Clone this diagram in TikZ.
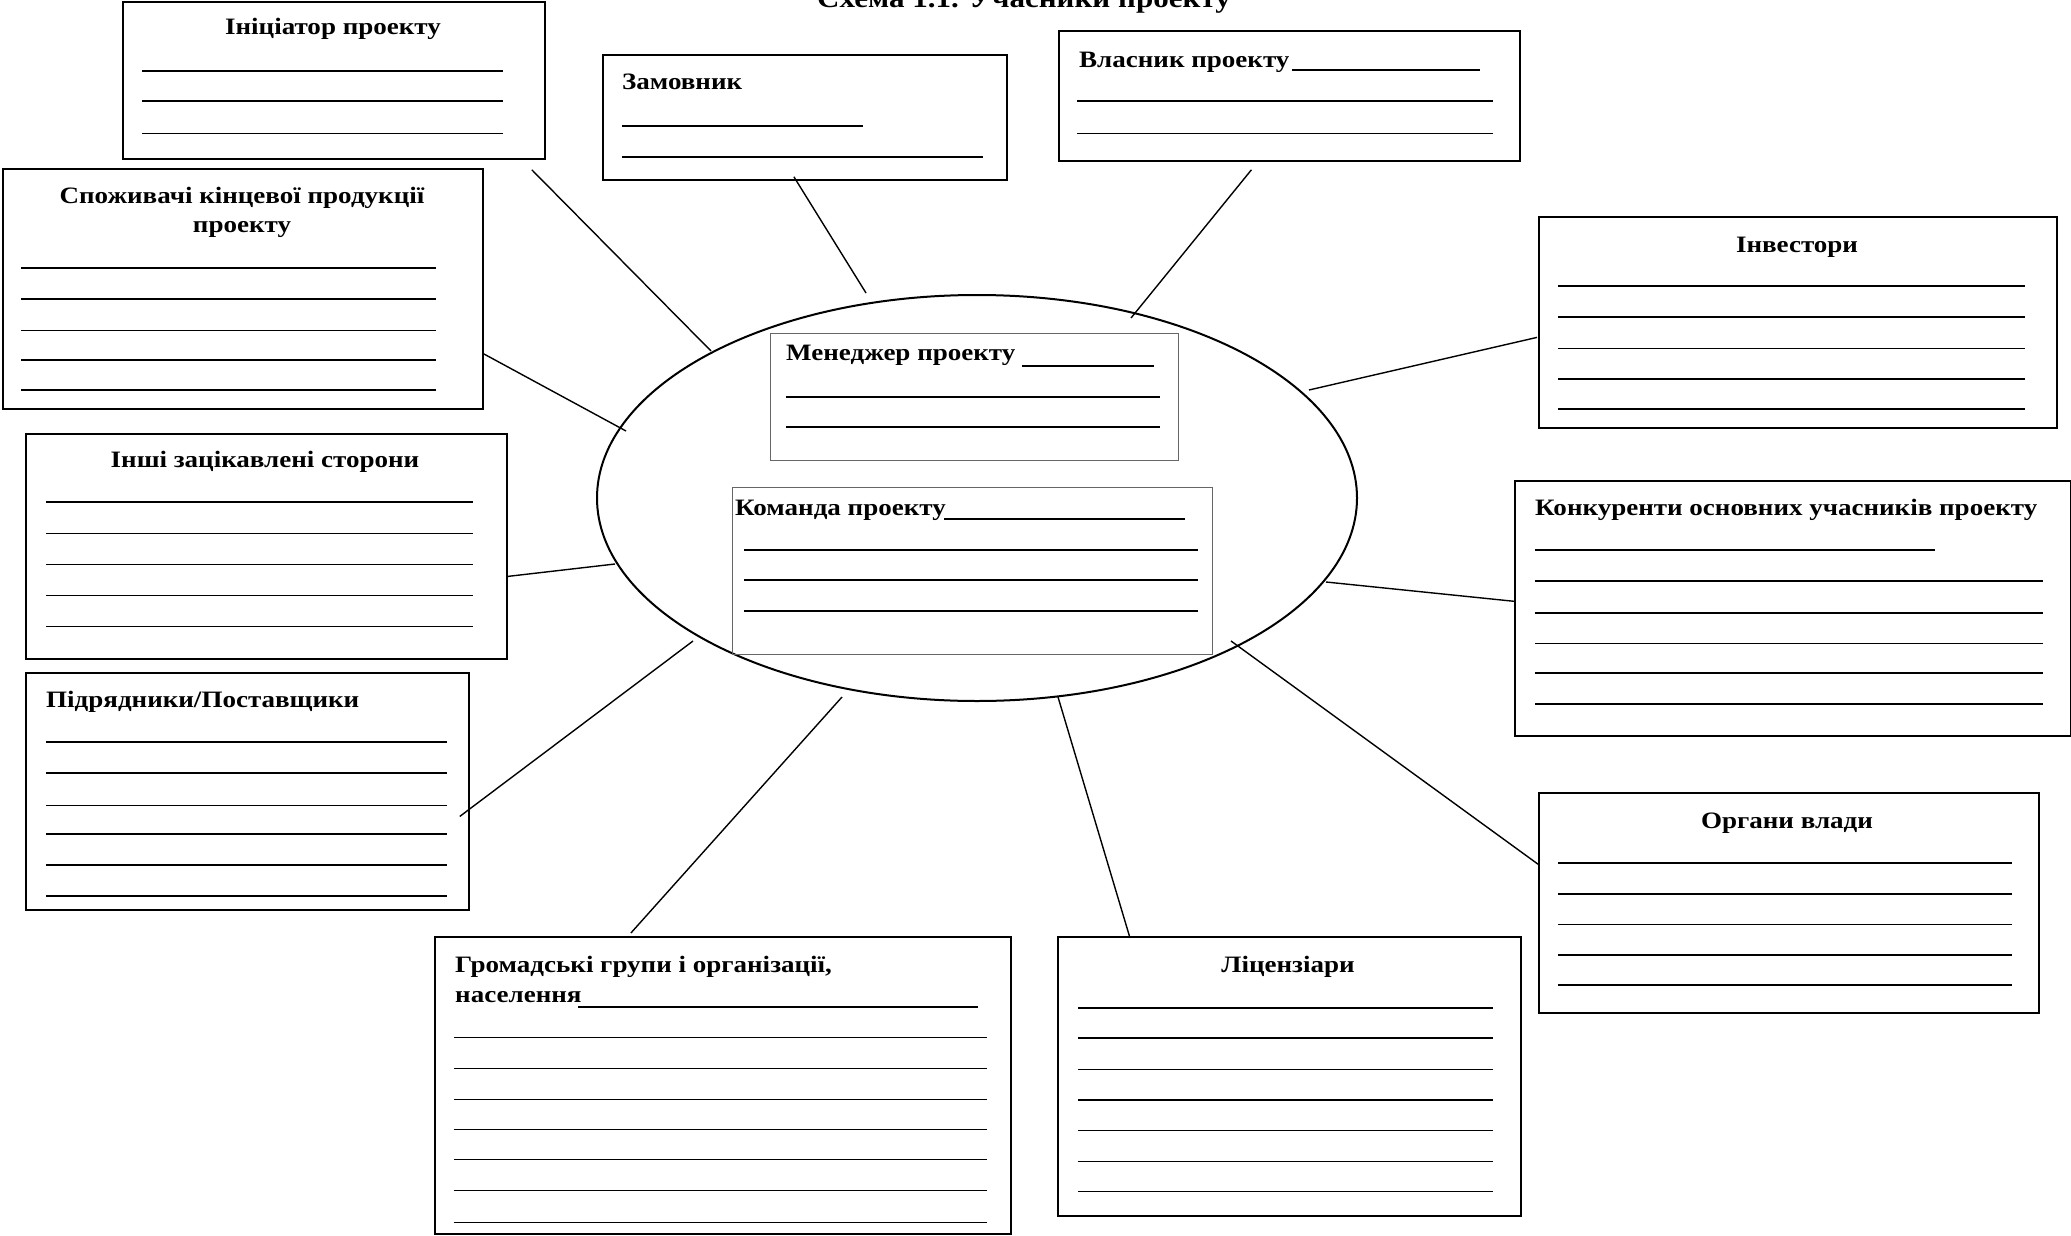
\documentclass[tikz,border=0pt]{standalone}
\usepackage{fontspec}
\setmainfont{Liberation Serif}[FakeStretch=1.15]
\usetikzlibrary{shapes.geometric}
\tikzset{
    box/.style   = {rectangle,
                    draw=black,
                    line width=1.8pt,
                    anchor=north west,
                    inner sep=0pt},
    inbox/.style = {rectangle,
                    draw=black!60,
                    line width=1pt,
                    anchor=north west,
                    inner sep=0pt},
    oval/.style  = {ellipse,
                    draw=black,
                    line width=2pt,
                    inner sep=0pt},
    ttl/.style   = {font=\bfseries\fontsize{23.5}{28}\selectfont,
                    inner sep=0pt,
                    anchor=base},
    ttlw/.style  = {ttl, anchor=base west},
    thk/.style   = {line width=1.8pt},
    thn/.style   = {line width=0.9pt},
    link/.style  = {line width=1.4pt}}

\begin{document}
\begin{tikzpicture}[x=1pt,y=-1pt]
    \useasboundingbox (0,0) rectangle (2071,1236);
    \clip (0,0) rectangle (2071,1236);
    \node[ttl,font=\bfseries\fontsize{27}{31}\selectfont] (head) at (1024,8) {Схема 1.1. Учасники проекту};

    % centre
    \node[oval,minimum width=760pt,minimum height=406pt] (ell) at (977,498) {};
    \node[inbox,minimum width=408pt,minimum height=127pt] (M) at (770,333) {};
    \node[inbox,minimum width=480pt,minimum height=167pt] (T) at (732,487) {};
    \node[ttlw] at (786,360) {Менеджер проекту};
    \node[ttlw] at (735,515) {Команда проекту};
    \draw[thk] (1022,366) -- (1154,366);
    \draw[thk] (944,519) -- (1185,519);
    \foreach \y in {397,427} \draw[thk] (786,\y) -- (1160,\y);
    \foreach \y in {550,580,611} \draw[thk] (744,\y) -- (1198,\y);

    % boxes round the oval
    \node[box,minimum width=422pt,minimum height=157pt] (A) at (122,1)    {};
    \node[box,minimum width=480pt,minimum height=240pt] (B) at (2,168)    {};
    \node[box,minimum width=404pt,minimum height=125pt] (C) at (602,54)   {};
    \node[box,minimum width=461pt,minimum height=130pt] (D) at (1058,30)  {};
    \node[box,minimum width=518pt,minimum height=211pt] (E) at (1538,216) {};
    \node[box,minimum width=481pt,minimum height=225pt] (F) at (25,433)   {};
    \node[box,minimum width=443pt,minimum height=237pt] (G) at (25,672)   {};
    \node[box,minimum width=576pt,minimum height=297pt] (H) at (434,936)  {};
    \node[box,minimum width=463pt,minimum height=279pt] (I) at (1057,936) {};
    \node[box,minimum width=500pt,minimum height=220pt] (J) at (1538,792) {};
    \node[box,minimum width=556pt,minimum height=255pt] (K) at (1514,480) {};

    \node[ttl]  at (333,35)   {Ініціатор проекту};
    \node[ttl]  at (242,203)  {Споживачі кінцевої продукції};
    \node[ttl]  at (242,232)  {проекту};
    \node[ttlw] at (622,90)   {Замовник};
    \node[ttlw] at (1079,68)  {Власник проекту};
    \node[ttl]  at (1797,252) {Інвестори};
    \node[ttl]  at (265,467)  {Інші зацікавлені сторони};
    \node[ttlw] at (46,707)   {Підрядники/Поставщики};
    \node[ttlw] at (455,972)  {Громадські групи і організації,};
    \node[ttlw] at (455,1002) {населення};
    \node[ttl]  at (1288,972) {Ліцензіари};
    \node[ttl]  at (1787,828) {Органи влади};
    \node[ttlw] at (1535,515) {Конкуренти основних учасників проекту};

    % blank lines
    \foreach \y/\s in {71/thk,101/thk,133/thn} \draw[\s] (142,\y) -- (503,\y);
    \foreach \y/\s in {268/thk,299/thk,330/thn,360/thk,390/thk} \draw[\s] (21,\y) -- (436,\y);
    \draw[thk] (622,126) -- (863,126);
    \draw[thk] (622,157) -- (983,157);
    \draw[thk] (1292,70) -- (1480,70);
    \foreach \y/\s in {101/thk,133/thn} \draw[\s] (1077,\y) -- (1493,\y);
    \foreach \y/\s in {286/thk,317/thk,348/thn,379/thk,409/thk} \draw[\s] (1558,\y) -- (2025,\y);
    \foreach \y/\s in {502/thk,533/thn,564/thn,595/thn,626/thn} \draw[\s] (46,\y) -- (473,\y);
    \foreach \y/\s in {742/thk,773/thk,805/thn,834/thk,865/thk,896/thk} \draw[\s] (46,\y) -- (447,\y);
    \draw[thk] (578,1007) -- (978,1007);
    \foreach \y in {1037,1068,1099,1129,1159,1190,1222} \draw[thn] (454,\y) -- (987,\y);
    \foreach \y/\s in {1008/thk,1038/thk,1069/thn,1100/thk,1130/thn,1161/thn,1191/thn} \draw[\s] (1078,\y) -- (1493,\y);
    \foreach \y/\s in {863/thk,894/thk,924/thn,955/thk,985/thk} \draw[\s] (1558,\y) -- (2012,\y);
    \draw[thk] (1535,550) -- (1935,550);
    \foreach \y/\s in {581/thk,613/thk,643/thn,673/thk,704/thk} \draw[\s] (1535,\y) -- (2043,\y);

    % connectors
    \path [link] ([shift={(-14,10)}]A.south east) edge ([shift={(-266,-147)}]ell.center)
                 ([shift={(0,65)}]B.east)          edge ([shift={(-351,-67)}]ell.center)
                 ([shift={(-11,-4)}]C.south)       edge ([shift={(-111,-205)}]ell.center)
                 ([shift={(-38,8)}]D.south)        edge ([shift={(154,-180)}]ell.center)
                 ([shift={(-1,15)}]E.west)         edge ([shift={(332,-108)}]ell.center)
                 ([shift={(0,30)}]F.east)          edge ([shift={(-362,66)}]ell.center)
                 ([shift={(-10,25)}]G.east)        edge ([shift={(-284,143)}]ell.center)
                 ([shift={(-92,-3)}]H.north)       edge ([shift={(-135,199)}]ell.center)
                 ([shift={(73,2)}]I.north west)    edge ([shift={(81,199)}]ell.center)
                 ([shift={(1,-38)}]J.west)         edge ([shift={(254,143)}]ell.center)
                 ([shift={(1,-7)}]K.west)          edge ([shift={(349,84)}]ell.center);
\end{tikzpicture}
\end{document}
